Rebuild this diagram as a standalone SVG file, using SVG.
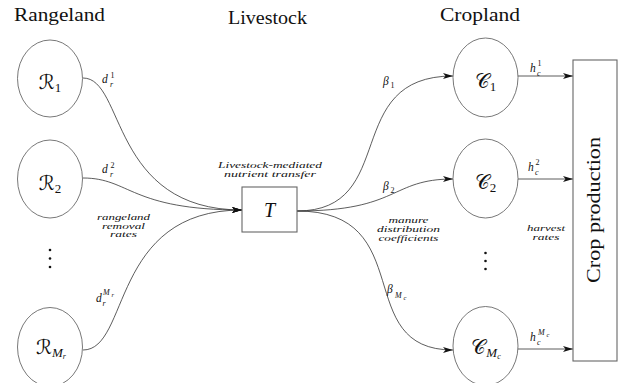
<svg xmlns="http://www.w3.org/2000/svg" width="619" height="383" viewBox="0 0 619 383">
<style>
text{font-family:"Liberation Serif","DejaVu Serif",serif;fill:#111}
.title{font-size:19px}
.node{fill:none;stroke:#555;stroke-width:0.8}
.box{fill:#fff;stroke:#666;stroke-width:1.1}
.cal{font-family:"DejaVu Serif","DejaVu Sans","Noto Sans",serif;font-size:20px}
.sub{font-size:13px}
.i{font-style:italic}
.m{font-style:italic;font-size:11.5px}
.s{font-size:8px}
.ss{font-size:6.5px;font-style:italic}
.note{font-style:italic;font-size:9px;text-anchor:middle}
.edge{fill:none;stroke:#333;stroke-width:0.8}
.dot{fill:#111}
</style>
<defs>
<marker id="arr" markerUnits="userSpaceOnUse" markerWidth="10" markerHeight="8" viewBox="0 0 10 8" refX="10" refY="4" orient="auto">
<path d="M0,1 L10,4 L0,7 L2.5,4 Z" fill="#111"/>
</marker>
</defs>

<text class="title" x="14" y="21" textLength="91" lengthAdjust="spacingAndGlyphs">Rangeland</text>
<text class="title" x="228" y="24" textLength="79" lengthAdjust="spacingAndGlyphs">Livestock</text>
<text class="title" x="440" y="21" textLength="80" lengthAdjust="spacingAndGlyphs">Cropland</text>

<g id="edges">
<path class="edge" d="M83,78 C125,78 110,210 242,210" marker-end="url(#arr)"/>
<path class="edge" d="M83,178 C130,178 130,210 242,210" marker-end="url(#arr)"/>
<path class="edge" d="M83,350 C130,350 110,210 242,210" marker-end="url(#arr)"/>
<path class="edge" d="M297,211 C400,211 340,76 453,76" marker-end="url(#arr)"/>
<path class="edge" d="M297,211 C400,211 390,179 453,179" marker-end="url(#arr)"/>
<path class="edge" d="M297,211 C420,211 350,350 453,350" marker-end="url(#arr)"/>
<path class="edge" d="M518,76 L573,76" marker-end="url(#arr)"/>
<path class="edge" d="M518,179 L573,179" marker-end="url(#arr)"/>
<path class="edge" d="M518,349 L573,349" marker-end="url(#arr)"/>
</g>

<g id="R1">
<ellipse class="node" cx="50" cy="78.5" rx="32.5" ry="38.5"/>
<text x="50" y="89" text-anchor="middle"><tspan class="cal">ℛ</tspan><tspan class="sub" dy="3">1</tspan></text>
</g>
<g id="R2">
<ellipse class="node" cx="50" cy="179" rx="32.5" ry="39"/>
<text x="50" y="190" text-anchor="middle"><tspan class="cal">ℛ</tspan><tspan class="sub" dy="3">2</tspan></text>
</g>
<g id="Rdots">
<circle class="dot" cx="50" cy="250" r="1.3"/>
<circle class="dot" cx="50" cy="258.5" r="1.3"/>
<circle class="dot" cx="50" cy="267" r="1.3"/>
</g>
<g id="RMr">
<ellipse class="node" cx="50" cy="347" rx="32.5" ry="39.5"/>
<text x="51" y="354" text-anchor="middle"><tspan class="cal">ℛ</tspan><tspan class="sub i" dy="3">M</tspan><tspan class="s i" dy="2">r</tspan></text>
</g>

<g id="T">
<rect class="box" x="242" y="187" width="55" height="45"/>
<text x="269.5" y="217" text-anchor="middle" font-style="italic" font-size="20">T</text>
</g>

<g id="C1">
<ellipse class="node" cx="485.5" cy="77.5" rx="32.5" ry="39.5"/>
<text x="485.5" y="88" text-anchor="middle"><tspan class="cal">𝒞</tspan><tspan class="sub" dy="3">1</tspan></text>
</g>
<g id="C2">
<ellipse class="node" cx="485.5" cy="178.5" rx="32.5" ry="39.5"/>
<text x="485.5" y="189" text-anchor="middle"><tspan class="cal">𝒞</tspan><tspan class="sub" dy="3">2</tspan></text>
</g>
<g id="Cdots">
<circle class="dot" cx="485.5" cy="253" r="1.3"/>
<circle class="dot" cx="485.5" cy="261" r="1.3"/>
<circle class="dot" cx="485.5" cy="269" r="1.3"/>
</g>
<g id="CMc">
<ellipse class="node" cx="485.5" cy="346" rx="32.5" ry="39.5"/>
<text x="486" y="354" text-anchor="middle"><tspan class="cal">𝒞</tspan><tspan class="sub i" dy="3">M</tspan><tspan class="s i" dy="2">c</tspan></text>
</g>

<g id="Crop">
<rect class="box" x="573" y="60" width="44" height="301"/>
<text transform="translate(600,210) rotate(-90)" x="0" y="0" text-anchor="middle" font-size="19" textLength="146" lengthAdjust="spacingAndGlyphs">Crop production</text>
</g>

<g id="labels">
<text><tspan class="m" x="102" y="83">d</tspan><tspan class="s" x="110.5" y="77.5">1</tspan><tspan class="s i" x="110" y="87">r</tspan></text>
<text><tspan class="m" x="102" y="173">d</tspan><tspan class="s" x="110.5" y="167.5">2</tspan><tspan class="s i" x="110" y="177">r</tspan></text>
<text><tspan class="m" x="96" y="302">d</tspan><tspan class="s i" x="103" y="295" font-size="10">M</tspan><tspan class="ss" x="111.5" y="297">r</tspan><tspan class="s i" x="102.5" y="306">r</tspan></text>
<text><tspan class="m" x="383" y="85" font-size="10">β</tspan><tspan class="s" x="390.5" y="88">1</tspan></text>
<text><tspan class="m" x="383" y="190" font-size="10">β</tspan><tspan class="s" x="390.5" y="193">2</tspan></text>
<text><tspan class="m" x="387" y="293" font-size="10">β</tspan><tspan class="s i" x="395" y="298" font-size="10">M</tspan><tspan class="ss" x="403.5" y="300">c</tspan></text>
<text><tspan class="m" x="530" y="72">h</tspan><tspan class="s" x="537.5" y="66">1</tspan><tspan class="s i" x="537" y="75.5">c</tspan></text>
<text><tspan class="m" x="528" y="171">h</tspan><tspan class="s" x="535.5" y="165">2</tspan><tspan class="s i" x="535" y="174.5">c</tspan></text>
<text><tspan class="m" x="530" y="341">h</tspan><tspan class="s i" x="538" y="335" font-size="10">M</tspan><tspan class="ss" x="546.5" y="337">c</tspan><tspan class="s i" x="537" y="345">c</tspan></text>
<text class="note" x="270" y="167.5" textLength="104" lengthAdjust="spacingAndGlyphs">Livestock-mediated</text>
<text class="note" x="270" y="176.5" textLength="92" lengthAdjust="spacingAndGlyphs">nutrient transfer</text>
<text class="note" x="123.5" y="219.5" textLength="53" lengthAdjust="spacingAndGlyphs">rangeland</text>
<text class="note" x="123.5" y="228.5" textLength="43" lengthAdjust="spacingAndGlyphs">removal</text>
<text class="note" x="123.5" y="237" textLength="27" lengthAdjust="spacingAndGlyphs">rates</text>
<text class="note" x="408.5" y="223" textLength="40" lengthAdjust="spacingAndGlyphs">manure</text>
<text class="note" x="408.5" y="232" textLength="63" lengthAdjust="spacingAndGlyphs">distribution</text>
<text class="note" x="408.5" y="241" textLength="60" lengthAdjust="spacingAndGlyphs">coefficients</text>
<text class="note" x="546" y="231" textLength="38" lengthAdjust="spacingAndGlyphs">harvest</text>
<text class="note" x="546" y="240" textLength="27" lengthAdjust="spacingAndGlyphs">rates</text>
</g>
</svg>
